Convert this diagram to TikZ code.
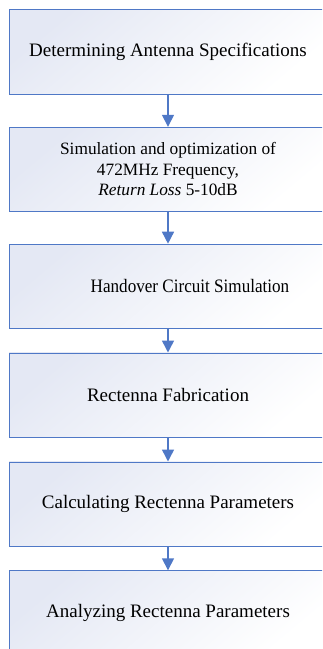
\documentclass[tikz,border=0pt]{standalone}
\usepackage{fontspec}
\setmainfont{Liberation Serif}
\usetikzlibrary{arrows.meta}
\definecolor{edgeblue}{HTML}{4F78C6}
\definecolor{fillblue}{HTML}{E4E8F4}
\tikzset{
  stepbox/.style={draw=edgeblue, line width=0.9pt, top color=fillblue, bottom color=white, shading angle=40,
    minimum width=318pt, minimum height=84.5pt, inner sep=0pt, font=\fontsize{19pt}{20.5pt}\selectfont, align=center, text=black},
  flow/.style={draw=edgeblue, line width=1.5pt, -{Triangle[width=12pt,length=12pt]}}
}
\begin{document}
\begin{tikzpicture}[x=1pt,y=1pt]
\useasboundingbox (0,0) rectangle (322,-649);
\clip (0,0) rectangle (322,-649);
\node[stepbox] (b1) at (168,-51.75) {Determining Antenna Specifications};
\node[stepbox, font=\fontsize{17.3pt}{20.5pt}\selectfont] (b2) at (168,-169.5) {Simulation and optimization of\\472MHz Frequency,\\\textit{Return Loss} 5-10dB};
\node[stepbox] (b3) at (168,-286.4) {\hspace*{44pt}\scalebox{0.9}[1]{Handover Circuit Simulation}};
\node[stepbox] (b4) at (168,-395.2) {Rectenna Fabrication};
\node[stepbox] (b5) at (168,-504.2) {Calculating Rectenna Parameters};
\node[stepbox] (b6) at (168,-613) {Analyzing Rectenna Parameters};
\draw[flow] (b1.south) -- (b2.north);
\draw[flow] (b2.south) -- (b3.north);
\draw[flow] (b3.south) -- (b4.north);
\draw[flow] (b4.south) -- (b5.north);
\draw[flow] (b5.south) -- (b6.north);
\end{tikzpicture}
\end{document}
